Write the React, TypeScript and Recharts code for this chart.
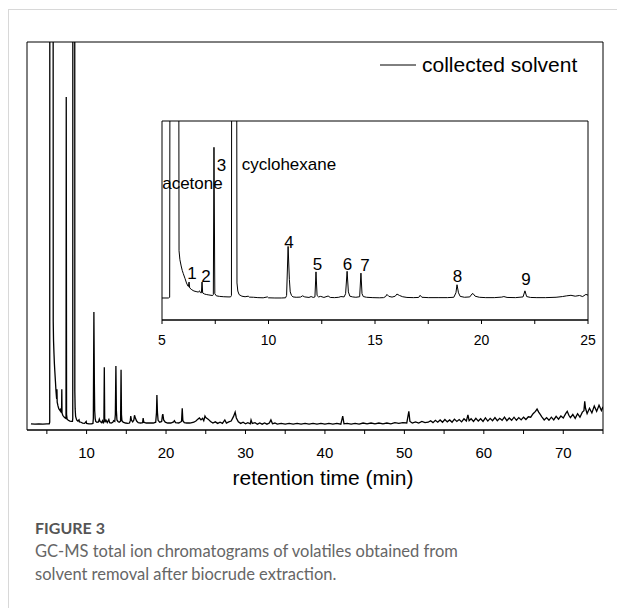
import React from "react";
import {
  Line,
  LineChart,
  ReferenceArea,
  ReferenceDot,
  XAxis,
  YAxis,
} from "recharts";

// retention time (min), abundance (arbitrary units, 0–100 = full height of the main frame)
const solventRegion: [number, number][] = [
  [3.0, 1.6], [3.5, 1.5], [4.0, 1.6], [4.5, 1.5], [5.0, 1.6], [5.3, 1.6],
  [5.36, 2], [5.4, 400], [5.76, 400], [5.8, 28], [5.84, 23], [5.9, 19.5],
  [5.95, 17], [6.0, 15.2], [6.08, 12.5], [6.15, 10], [6.22, 8.2], [6.24, 8],
  [6.27, 10.5], [6.3, 7.2], [6.4, 6.2], [6.5, 5.5], [6.6, 5.2], [6.7, 4.9],
  [6.76, 5.6], [6.8, 4.6], [6.85, 4.5], [6.88, 10.5], [6.91, 4.4], [7.0, 3.8],
  [7.1, 3.5], [7.2, 3.3], [7.3, 3.1], [7.38, 3.0], [7.41, 3.5], [7.44, 85.8],
  [7.48, 4], [7.55, 2.8], [7.7, 2.5], [7.9, 2.3], [8.1, 2.2], [8.22, 2.2],
  [8.26, 3], [8.29, 400], [8.48, 400], [8.52, 10], [8.56, 5.5], [8.62, 3.5],
  [8.75, 2.6], [8.9, 2.3], [9.05, 2.6],
];

const earlyRegion: [number, number][] = [
  [9.1, 2.1], [9.3, 2.0], [9.5, 1.8], [9.75, 1.7], [9.95, 2.2], [10.0, 1.7],
  [10.3, 1.6], [10.6, 1.6], [10.8, 1.7], [10.85, 3], [10.92, 30.4], [10.98, 12],
  [11.02, 5], [11.08, 3], [11.15, 2.2], [11.3, 2.0], [11.5, 2.1], [11.6, 2.8],
  [11.7, 2.2], [11.9, 1.9], [12.0, 2.4], [12.1, 1.9], [12.18, 2.2], [12.23, 16.2],
  [12.28, 3], [12.35, 2.2], [12.45, 2.5], [12.6, 1.9], [12.8, 2.7], [12.9, 1.9],
  [13.1, 1.8], [13.3, 2.0], [13.4, 2.4], [13.55, 2.2], [13.62, 4], [13.69, 16.5],
  [13.75, 5], [13.82, 2.6], [13.95, 2.2], [14.1, 2.0], [14.28, 2.3], [14.34, 15.5],
  [14.39, 4], [14.45, 2.4], [14.6, 2.0], [14.9, 1.8], [15.2, 1.7], [15.4, 1.8],
  [15.5, 2.4], [15.56, 3.6], [15.65, 2.5], [15.8, 2.1], [15.95, 2.6], [16.03, 3.8],
  [16.15, 3.0], [16.3, 2.3], [16.5, 1.9], [16.8, 1.8], [17.05, 1.9], [17.12, 3.1],
  [17.2, 2.0], [17.5, 1.8], [18.0, 1.8], [18.4, 1.8], [18.7, 2.0], [18.8, 4.5],
  [18.85, 9.0], [18.92, 4.5], [19.0, 2.5], [19.2, 2.0], [19.45, 2.2], [19.55, 3.8],
  [19.6, 4.1], [19.7, 2.6], [19.9, 2.0], [20.2, 1.8], [20.6, 1.8], [20.95, 2.1],
  [21.05, 2.4], [21.2, 1.9], [21.6, 1.8], [21.95, 2.2], [22.04, 5.6], [22.12, 2.4],
  [22.3, 1.9], [22.6, 1.8], [23.0, 1.8], [23.5, 2.0], [23.8, 2.4], [24.0, 2.8],
  [24.2, 3.1], [24.4, 2.6], [24.6, 3.0], [24.75, 2.4], [24.9, 3.6], [25.0, 3.2],
];

const lateRegion: [number, number][] = [
  [25.3, 2.8], [25.6, 2.2], [25.9, 1.8], [26.2, 2.1], [26.5, 1.7], [26.8, 2.0],
  [27.1, 1.7], [27.4, 2.6], [27.6, 1.8], [27.9, 2.1], [28.2, 2.3], [28.5, 3.5],
  [28.7, 4.6], [28.85, 3.1], [29.1, 2.1], [29.4, 1.7], [29.7, 2.0], [30.0, 1.6],
  [30.3, 1.9], [30.6, 1.6], [30.7, 2.6], [30.85, 1.7], [31.2, 1.9], [31.5, 1.5],
  [31.8, 1.8], [32.1, 1.5], [32.4, 1.8], [32.7, 1.5], [33.0, 1.8], [33.2, 2.6],
  [33.4, 1.6], [33.7, 1.8], [34.0, 1.5], [34.5, 1.7], [35.0, 1.5], [35.5, 1.7],
  [36.0, 1.5], [36.5, 1.7], [37.0, 1.5], [37.5, 1.7], [38.0, 1.5], [38.5, 1.7],
  [39.0, 1.5], [39.5, 1.7], [40.0, 1.5], [40.5, 1.7], [41.0, 1.5], [41.5, 1.7],
  [42.0, 1.5], [42.24, 3.6], [42.4, 1.6], [42.8, 1.7], [43.3, 1.5], [43.8, 1.7],
  [44.3, 1.5], [44.8, 1.8], [45.3, 1.6], [45.8, 1.8], [46.3, 1.6], [46.8, 1.8],
  [47.3, 1.6], [47.8, 1.8], [48.3, 1.6], [48.8, 1.9], [49.3, 1.7], [49.8, 1.9],
  [50.3, 1.8], [50.56, 4.8], [50.7, 2.2], [51.0, 1.8], [51.4, 2.1], [51.8, 1.8],
  [52.2, 2.2], [52.6, 1.9],
];

const tailRegion: [number, number][] = [
  [53.0, 2.0], [53.3, 2.4], [53.6, 1.9], [53.9, 2.5], [54.2, 2.0], [54.5, 2.6],
  [54.8, 2.0], [55.1, 2.7], [55.4, 2.1], [55.7, 2.6], [56.0, 2.0], [56.3, 2.8],
  [56.6, 2.2], [56.9, 2.7], [57.2, 2.1], [57.5, 2.9], [57.8, 2.3], [58.0, 3.9],
  [58.15, 2.4], [58.4, 2.9], [58.7, 2.2], [59.0, 3.0], [59.3, 2.3], [59.6, 2.9],
  [59.9, 2.2], [60.2, 3.1], [60.5, 2.3], [60.8, 3.0], [61.1, 2.4], [61.4, 3.2],
  [61.7, 2.4], [62.0, 3.0], [62.3, 2.5], [62.6, 3.3], [62.9, 2.4], [63.2, 3.1],
  [63.5, 2.5], [63.8, 3.3], [64.1, 2.5], [64.4, 3.2], [64.7, 2.6], [65.0, 3.3],
  [65.3, 2.7], [65.6, 3.4], [65.9, 3.3], [66.2, 4.2], [66.5, 4.8], [66.7, 5.4],
  [66.9, 4.6], [67.1, 4.0], [67.3, 3.4], [67.6, 2.6], [67.9, 3.2], [68.2, 2.5],
  [68.5, 3.3], [68.8, 2.6], [69.1, 3.5], [69.4, 2.8], [69.7, 3.6], [70.0, 3.1],
  [70.3, 4.2], [70.5, 4.8], [70.7, 3.8], [70.9, 3.2], [71.2, 4.0], [71.5, 3.0],
  [71.8, 4.2], [72.1, 3.3], [72.4, 4.6], [72.6, 5.0], [72.7, 7.4], [72.8, 5.6],
  [73.0, 4.2], [73.3, 5.6], [73.6, 4.4], [73.9, 6.2], [74.2, 4.8], [74.5, 6.4],
  [74.8, 5.0], [75.0, 6.0],
];

const mainTicks = [5, 10, 15, 20, 25, 30, 35, 40, 45, 50, 55, 60, 65, 70, 75];
const insetTicks = [5, 7.5, 10, 12.5, 15, 17.5, 20, 22.5, 25];

// inset annotations: [retention time, abundance, text]
const peakLabels: [number, number, string][] = [
  [6.43, 65.8, "acetone"],
  [10.96, 76.5, "cyclohexane"],
  [7.79, 75.9, "3"],
  [6.41, 15.6, "1"],
  [7.07, 13.9, "2"],
  [10.96, 32.9, "4"],
  [12.3, 20.6, "5"],
  [13.71, 20.6, "6"],
  [14.53, 20.0, "7"],
  [18.87, 13.9, "8"],
  [22.09, 12.2, "9"],
];

const trace = [...solventRegion, ...earlyRegion, ...lateRegion, ...tailRegion].map(
  ([t, v]) => ({ t, v })
);
const insetTrace = trace.filter((d) => d.t >= 4.8 && d.t <= 25.4);

const FONT = "'Liberation Sans', Arial, sans-serif";

const tickLabel = (v: number) => (v % 10 === 0 ? String(v) : "");
const insetTickLabel = (v: number) => (v % 5 === 0 ? String(v) : "");

export default function App() {
  return (
    <div style={{ position: "absolute", left: 0, top: 0, width: 617, height: 608, background: "#fff" }}>
      <div
        style={{
          position: "absolute",
          left: 8,
          top: 9,
          width: 609,
          height: 599,
          borderLeft: "1px solid #d8d8d8",
          borderTop: "1px solid #d8d8d8",
        }}
      />

      <div style={{ position: "absolute", left: 0, top: 0 }}>
        <LineChart
          width={617}
          height={500}
          data={trace}
          margin={{ top: 42, right: 14, left: 27, bottom: 40 }}
          style={{ fontFamily: FONT }}
        >
          <XAxis
            xAxisId="bottom"
            dataKey="t"
            type="number"
            domain={[2.5, 75]}
            allowDataOverflow
            ticks={mainTicks}
            tickFormatter={tickLabel}
            tickSize={4}
            tickMargin={13}
            height={30}
            interval={0}
            axisLine={{ stroke: "#000" }}
            tickLine={{ stroke: "#000" }}
            tick={{ fill: "#000", fontSize: 15 }}
            label={{ value: "retention time (min)", position: "bottom", offset: 10, dx: 8, fill: "#000", fontSize: 21 }}
          />
          <YAxis yAxisId="left" type="number" domain={[0, 100]} allowDataOverflow hide />
          <ReferenceArea
            xAxisId="bottom"
            yAxisId="left"
            x1={2.5}
            x2={75}
            y1={0}
            y2={100}
            fill="none"
            stroke="#000"
            strokeWidth={1}
          />
          <Line
            xAxisId="bottom"
            yAxisId="left"
            dataKey="v"
            name="collected solvent"
            type="linear"
            stroke="#000"
            strokeWidth={1.3}
            dot={false}
            activeDot={false}
            isAnimationActive={false}
          />
        </LineChart>
      </div>

      <div
        style={{
          position: "absolute",
          left: 380,
          top: 53,
          display: "flex",
          alignItems: "center",
          fontFamily: FONT,
        }}
      >
        <svg width={36} height={10} style={{ marginRight: 6 }}>
          <line x1={0} y1={5} x2={36} y2={5} stroke="#000" strokeWidth={1} />
        </svg>
        <span style={{ fontSize: 21, color: "#000", lineHeight: "24px" }}>collected solvent</span>
      </div>

      <div style={{ position: "absolute", left: 140, top: 100 }}>
        <LineChart
          width={470}
          height={260}
          data={insetTrace}
          margin={{ top: 21, right: 22, left: 22, bottom: 10 }}
          style={{ fontFamily: FONT }}
        >
          <XAxis
            xAxisId="bottom"
            dataKey="t"
            type="number"
            domain={[5, 25]}
            allowDataOverflow
            ticks={insetTicks}
            tickFormatter={insetTickLabel}
            tickSize={4}
            tickMargin={11}
            height={30}
            interval={0}
            axisLine={{ stroke: "#000" }}
            tickLine={{ stroke: "#000" }}
            tick={{ fill: "#000", fontSize: 14 }}
          />
          <YAxis yAxisId="left" type="number" domain={[-10.7, 100.5]} allowDataOverflow hide />
          <ReferenceArea
            xAxisId="bottom"
            yAxisId="left"
            x1={5}
            x2={25}
            y1={-10.7}
            y2={100.5}
            fill="none"
            stroke="#000"
            strokeWidth={1}
          />
          <Line
            xAxisId="bottom"
            yAxisId="left"
            dataKey="v"
            type="linear"
            stroke="#000"
            strokeWidth={1}
            dot={false}
            activeDot={false}
            isAnimationActive={false}
          />
          {peakLabels.map(([t, v, text]) => (
            <ReferenceDot
              key={text}
              xAxisId="bottom"
              yAxisId="left"
              x={t}
              y={v}
              r={0}
              fill="none"
              stroke="none"
              label={{ value: text, position: "center", fill: "#000", fontSize: 17 }}
            />
          ))}
        </LineChart>
      </div>

      <div
        style={{
          position: "absolute",
          left: 35,
          top: 518,
          fontFamily: "Lato, 'Open Sans', sans-serif",
          fontWeight: 700,
          fontSize: 16,
          lineHeight: "20px",
          color: "#555",
        }}
      >
        FIGURE 3
      </div>
      <div
        style={{
          position: "absolute",
          left: 35,
          top: 540,
          fontFamily: "Lato, 'Open Sans', sans-serif",
          fontSize: 16.5,
          lineHeight: "23px",
          color: "#666",
          whiteSpace: "nowrap",
        }}
      >
        GC-MS total ion chromatograms of volatiles obtained from
        <br />
        solvent removal after biocrude extraction.
      </div>
    </div>
  );
}
